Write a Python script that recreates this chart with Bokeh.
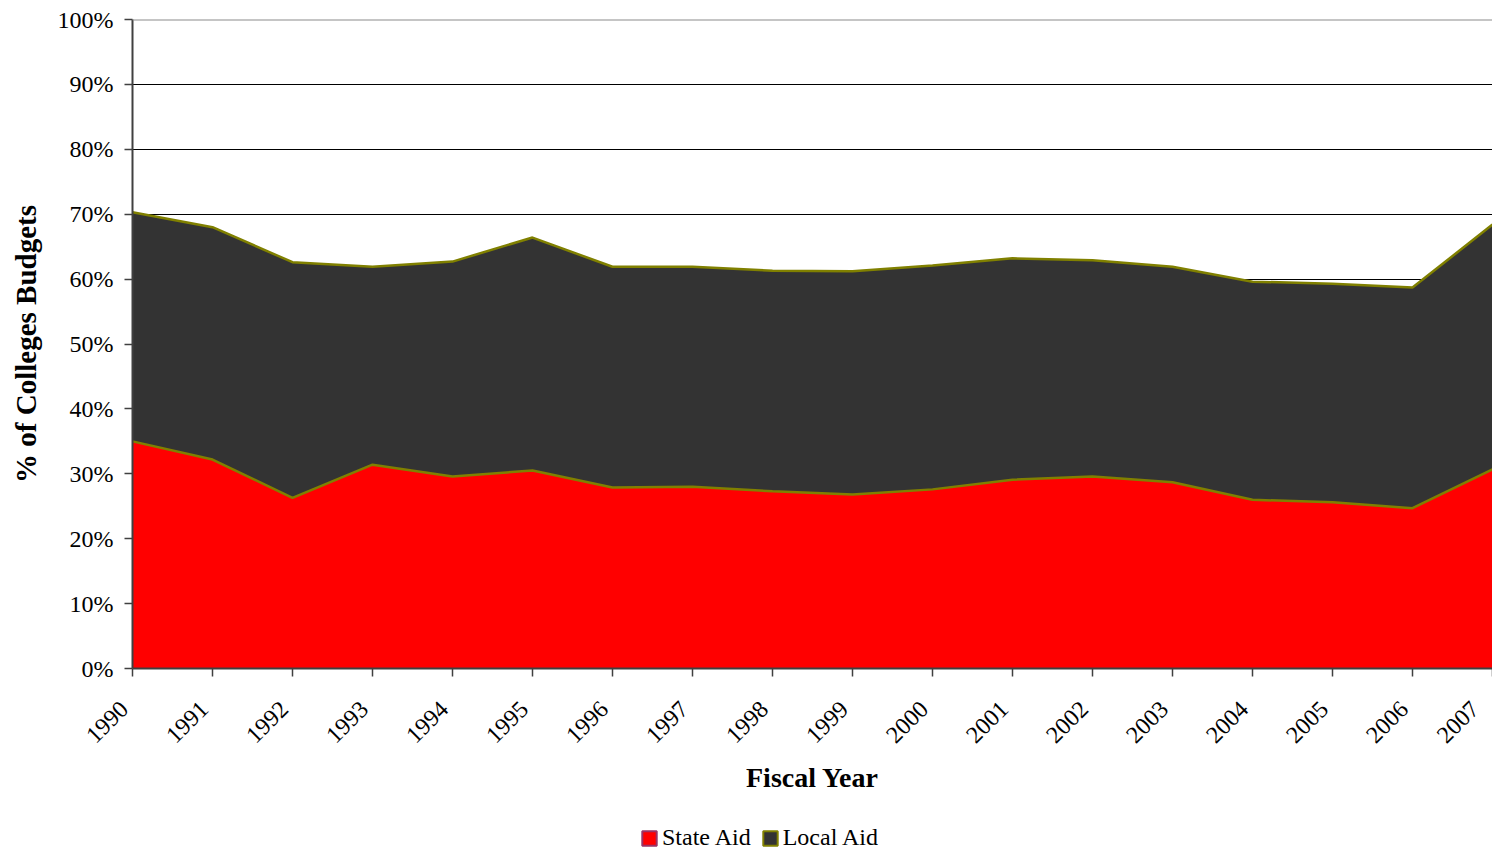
import numpy as np
from bokeh.plotting import figure
from bokeh.layouts import column
from bokeh.models import (Range1d, FixedTicker, PrintfTickFormatter, Legend, LegendItem,
                          Span, ColumnDataSource)
from bokeh.embed import file_html
from bokeh.resources import INLINE

years = list(range(1990, 2008))
state_aid = [35.0, 32.2, 26.3, 31.4, 29.6, 30.5, 27.9, 28.0, 27.3, 26.8,
             27.6, 29.1, 29.6, 28.7, 26.0, 25.6, 24.7, 30.7]
local_aid = [35.3, 35.8, 36.3, 30.5, 33.1, 35.9, 34.0, 33.9, 34.0, 34.4,
             34.5, 34.1, 33.3, 33.2, 33.6, 33.7, 34.0, 37.7]
y_ticks = [0, 10, 20, 30, 40, 50, 60, 70, 80, 90, 100]
series_names = ["State Aid", "Local Aid"]

FONT = "Liberation Serif"

state = np.array(state_aid)
total = state + np.array(local_aid)
src = ColumnDataSource(dict(x=years, zero=[0] * len(years), state=state, total=total))

p = figure(width=1492, height=822, output_backend="svg", toolbar_location=None,
           x_range=Range1d(1990, 2007), y_range=Range1d(0, 100),
           min_border_left=132, min_border_right=0, min_border_top=19, min_border_bottom=154)
p.outline_line_color = None
p.background_fill_color = "white"

p.varea(x="x", y1="zero", y2="state", source=src, fill_color="#FF0000")
p.varea(x="x", y1="state", y2="total", source=src, fill_color="#333333")
p.line(x="x", y="state", source=src, line_color="#808000", line_width=2.5)
p.line(x="x", y="total", source=src, line_color="#808000", line_width=2.5)

p.add_layout(Span(location=100, dimension="width", line_color="#8c8c8c", line_width=2))

# grid
p.xgrid.visible = False
p.ygrid.ticker = FixedTicker(ticks=y_ticks[1:-1])
p.ygrid.grid_line_color = "black"
p.ygrid.grid_line_width = 1

# y axis
p.yaxis.ticker = FixedTicker(ticks=y_ticks)
p.yaxis.formatter = PrintfTickFormatter(format="%d%%")
p.yaxis.axis_label = "% of Colleges Budgets"
p.yaxis.axis_label_text_font = FONT
p.yaxis.axis_label_text_font_size = "29px"
p.yaxis.axis_label_text_font_style = "bold"
p.yaxis.axis_label_standoff = 13
p.yaxis.major_label_text_font = FONT
p.yaxis.major_label_text_font_size = "24px"
p.yaxis.major_label_standoff = 11

# x axis
p.xaxis.ticker = FixedTicker(ticks=years)
p.xaxis.major_label_overrides = {y: str(y) + "\u00a0\u00a0" for y in years}
p.xaxis.major_label_orientation = np.pi / 4
p.xaxis.major_label_text_font = FONT
p.xaxis.major_label_text_font_size = "24px"
p.xaxis.major_label_standoff = 20
p.xaxis.axis_label = "Fiscal Year"
p.xaxis.axis_label_text_font = FONT
p.xaxis.axis_label_text_font_size = "28px"
p.xaxis.axis_label_text_font_style = "bold"
p.xaxis.axis_label_standoff = 2

for ax in (p.xaxis, p.yaxis):
    ax.axis_line_color = "#404040"
    ax.axis_line_width = 2
    ax.major_tick_line_color = "#404040"
    ax.major_tick_line_width = 1.5
    ax.major_tick_out = 8
    ax.major_tick_in = 0
    ax.minor_tick_line_color = None
    ax.major_label_text_color = "black"
    ax.axis_label_text_color = "black"

# legend strip below the chart
lg = figure(width=1492, height=30, output_backend="svg", toolbar_location=None,
            x_range=Range1d(0, 1), y_range=Range1d(0, 1),
            x_axis_location=None, y_axis_location=None,
            min_border=0, min_border_left=0, min_border_right=0,
            min_border_top=0, min_border_bottom=0)
lg.grid.visible = False
lg.outline_line_color = None
nan = [float("nan")]
r_state = lg.quad(left=nan, right=nan, top=nan, bottom=nan, fill_color="#FF0000",
                  line_color="#993366", line_width=2)
r_local = lg.quad(left=nan, right=nan, top=nan, bottom=nan, fill_color="#333333",
                  line_color="#808000", line_width=2)
legend = Legend(items=[LegendItem(label=series_names[0], renderers=[r_state]),
                       LegendItem(label=series_names[1], renderers=[r_local])],
                orientation="horizontal", location=(508, 1),
                label_text_font=FONT, label_text_font_size="24px",
                label_text_color="black",
                glyph_width=18, glyph_height=18, spacing=10, label_standoff=4,
                padding=2, margin=0, border_line_color=None, background_fill_alpha=0,
                label_height=24)
lg.add_layout(legend, "center")

layout = column(p, lg, spacing=0)
open("out.html", "w").write(file_html(layout, INLINE))
